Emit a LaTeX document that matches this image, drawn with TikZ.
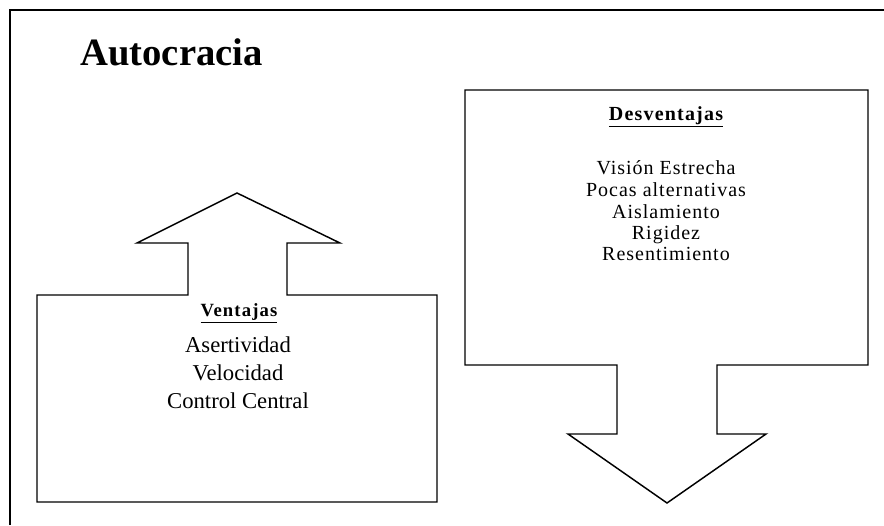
\documentclass[tikz,border=0pt]{standalone}
\usepackage{fontspec}
\setmainfont{Liberation Serif}
\newfontfamily\wideserif[LetterSpace=5]{Liberation Serif}
\newfontfamily\hdrserif[LetterSpace=6]{Liberation Serif}
\begin{document}
\begin{tikzpicture}[x=0.75pt,y=-0.75pt,
  shape line/.style={draw=black,line width=1.1pt,line join=miter},
  frame line/.style={draw=black,line width=0.9pt},
  lefttext/.style={anchor=base,inner sep=0pt,font=\fontsize{17}{20}\selectfont},
  righttext/.style={anchor=base,inner sep=0pt,font=\wideserif\fontsize{15}{18}\selectfont},
  hdr/.style={anchor=base,inner sep=0pt}]
\useasboundingbox (0,0) rectangle (884,525);
% outer frame (top and left)
\coordinate (fl) at (10,525);
\coordinate (fc) at (10,10);
\coordinate (fr) at (884,10);
\draw[frame line] (fl) -- (fc) -- (fr);
% title
\node[anchor=base west,inner sep=0pt,font=\bfseries\fontsize{29}{32}\selectfont] (title) at (80,65) {Autocracia};
% left up-arrow shape
\draw[shape line] (37,502) -- (437,502) -- (437,295) -- (287,295) -- (287,243) -- (340,243)
  -- (237,193) -- (137,243) -- (188,243) -- (188,295) -- (37,295) -- cycle;
\node[hdr,font=\hdrserif\bfseries\fontsize{14}{17}\selectfont] (vent) at (239,316) {\underline{Ventajas}};
\node[lefttext] (v1) at (238,352) {Asertividad};
\node[lefttext] (v2) at (238,380) {Velocidad};
\node[lefttext] (v3) at (238,408) {Control Central};
% right down-arrow shape
\draw[shape line] (465,90) -- (868,90) -- (868,365) -- (717,365) -- (717,434) -- (766,434)
  -- (667,503) -- (568,434) -- (617,434) -- (617,365) -- (465,365) -- cycle;
\node[hdr,font=\hdrserif\bfseries\fontsize{15}{18}\selectfont] (desv) at (666,120) {\underline{Desventajas}};
\node[righttext] (d1) at (666,174) {Visión Estrecha};
\node[righttext] (d2) at (666,196) {Pocas alternativas};
\node[righttext] (d3) at (666,218) {Aislamiento};
\node[righttext] (d4) at (666,239) {Rigidez};
\node[righttext] (d5) at (666,260) {Resentimiento};
\end{tikzpicture}
\end{document}
